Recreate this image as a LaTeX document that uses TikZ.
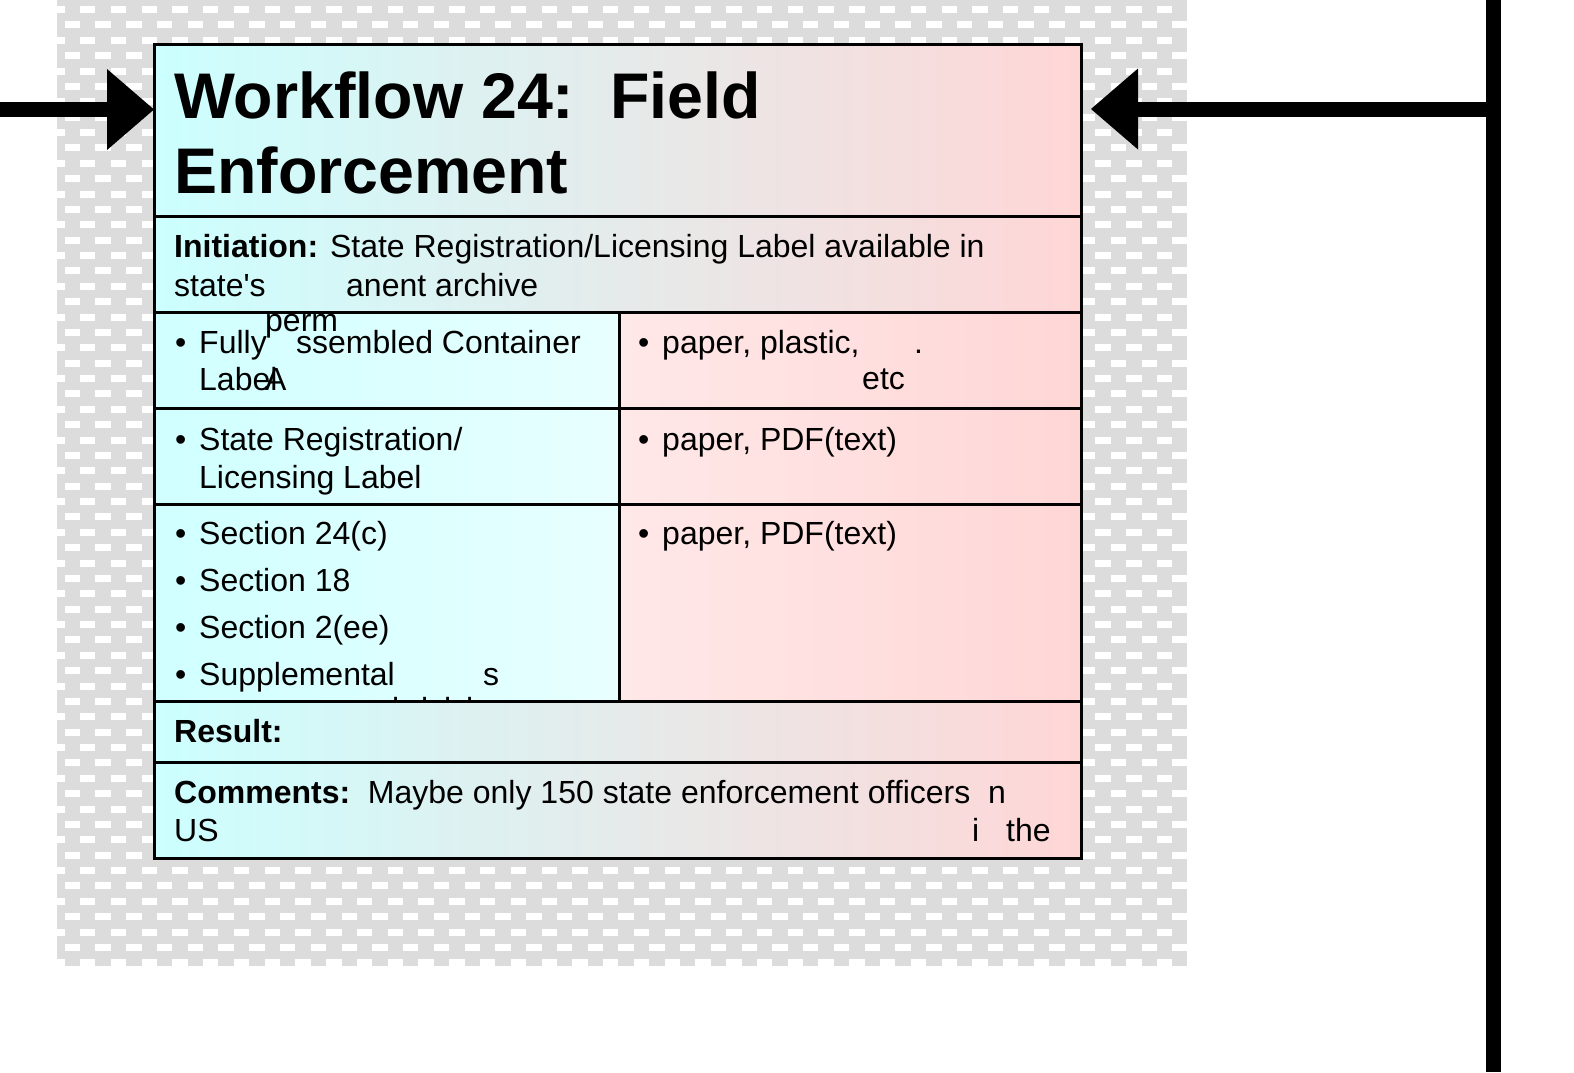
\documentclass[tikz,border=0pt]{standalone}
\usepackage{fontspec}
\newfontfamily\arial{Liberation Sans}
\definecolor{patgray}{HTML}{DCDCDC}
\definecolor{cyL}{HTML}{CCFFFF}
\definecolor{midG}{HTML}{E8E8E8}
\definecolor{pkR}{HTML}{FFD6D6}
\definecolor{cellCL}{HTML}{D0FFFF}
\definecolor{cellCR}{HTML}{E8FFFF}
\definecolor{cellPL}{HTML}{FFE8E8}
\definecolor{cellPR}{HTML}{FFD6D6}
\begin{document}
\begin{tikzpicture}[x=1pt,y=-1pt,
  txt/.style={anchor=base west, inner sep=0pt, font=\arial\fontsize{32}{38}\selectfont},
  ttl/.style={anchor=base west, inner sep=0pt, font=\arial\bfseries\fontsize{64.5}{75}\selectfont},
  rule/.style={line width=3pt, black},
  frame/.style={line width=3pt, black},
  shaft/.style={line width=15pt, black}]
\useasboundingbox (0,0) rectangle (1574,1072);
\fill[white] (0,0) rectangle (1574,1072);
% patterned backdrop
\fill[patgray] (57,0) rectangle (1187,966);
\begin{scope}
  \clip (57,0) rectangle (1187,966);
  \foreach \k in {0,...,63} {
    \pgfmathsetmacro{\yy}{9.5+15.375*\k}
    \pgfmathsetmacro{\xs}{mod(\k,2)==1 ? 33.84 : 49.22}
    \draw[white, line width=7pt, dash pattern=on 15.385pt off 15.385pt] (\xs,\yy) -- (1200,\yy);
  }
\end{scope}
% box fills
\shade[left color=cyL, middle color=midG, right color=pkR] (154,44) rectangle (1081,312);
\shade[left color=cyL, middle color=midG, right color=pkR] (154,701) rectangle (1081,858);
\shade[left color=cellCL, right color=cellCR] (154,312) rectangle (619,701);
\shade[left color=cellPL, right color=cellPR] (619,312) rectangle (1081,701);
% clipped remnant of a hidden line under "Supplemental"
\begin{scope}
  \clip (154,312) rectangle (619,700);
  \node[txt] (hid1) at (392,720) {l};
  \node[txt] (hid2) at (421,720) {l};
  \node[txt] (hid3) at (444,720) {l};
  \node[txt] (hid4) at (466,720) {l};
\end{scope}
% rules
\draw[rule] (154,216) -- (1081,216);
\draw[rule] (154,312) -- (1081,312);
\draw[rule] (154,408) -- (1081,408);
\draw[rule] (154,504) -- (1081,504);
\draw[rule] (154,701) -- (1081,701);
\draw[rule] (154,762) -- (1081,762);
\draw[rule] (619,312) -- (619,701);
\draw[frame] (154,44) rectangle (1081,858);
% texts
\node[ttl] (t1) at (174,118) {Workflow 24:\ \ Field};
\node[ttl] (t2) at (174,193.5) {Enforcement};
\node[txt] (ini1) at (174,257) {\textbf{Initiation:} State Registration/Licensing Label available in};
\node[txt] (ini2) at (174,296) {state's};
\node[txt] (ini3) at (346,296) {anent archive};
\node[txt] (b1) at (175,353) {•};
\node[txt] (f1) at (199,353) {Fully};
\node[txt] (f2) at (265,331) {perm};
\node[txt] (f3) at (296,353) {ssembled Container};
\node[txt] (f4) at (199,390) {Label};
\node[txt] (f5) at (265,390) {A};
\node[txt] (pb1) at (638,353) {•};
\node[txt] (p1) at (662,353) {paper, plastic,};
\node[txt] (p2) at (914,353) {.};
\node[txt] (p3) at (862,389) {etc};
\node[txt] (b2) at (175,450) {•};
\node[txt] (s1) at (199,450) {State Registration/};
\node[txt] (s2) at (199,488) {Licensing Label};
\node[txt] (pb2) at (638,450) {•};
\node[txt] (q1) at (662,450) {paper, PDF(text)};
\node[txt] (b3) at (175,544) {•};
\node[txt] (c1) at (199,544) {Section 24(c)};
\node[txt] (b4) at (175,591) {•};
\node[txt] (c2) at (199,591) {Section 18};
\node[txt] (b5) at (175,638) {•};
\node[txt] (c3) at (199,638) {Section 2(ee)};
\node[txt] (b6) at (175,685) {•};
\node[txt] (c4) at (199,685) {Supplemental};
\node[txt] (c5) at (483,685) {s};
\node[txt] (pb3) at (638,544) {•};
\node[txt] (q2) at (662,544) {paper, PDF(text)};
\node[txt] (res) at (174,742) {\textbf{Result:}};
\node[txt] (com1) at (174,803) {\textbf{Comments:}\ \ Maybe only 150 state enforcement officers};
\node[txt] (com2) at (988,803) {n};
\node[txt] (com3) at (174,841) {US};
\node[txt] (com4) at (972,841) {i};
\node[txt] (com5) at (1006,841) {the};
% arrows
\coordinate (Lin) at (0,109.5);
\coordinate (Lback) at (108,109.5);
\coordinate (Ltip) at (154,109.5);
\draw[shaft] (Lin) -- (Lback);
\fill (Ltip) -- ++(-47,-40.5) -- ++(0,81) -- cycle;
\coordinate (Rtip) at (1091,109);
\coordinate (Rback) at (1138,109);
\coordinate (Rjoin) at (1493,109);
\draw[shaft] (Rjoin) -- (Rback);
\fill (Rtip) -- ++(47,-40.5) -- ++(0,81) -- cycle;
\coordinate (Vtop) at (1493,0);
\coordinate (Vbot) at (1493,1072);
\draw[shaft] (Vtop) -- (Vbot);
\end{tikzpicture}
\end{document}
